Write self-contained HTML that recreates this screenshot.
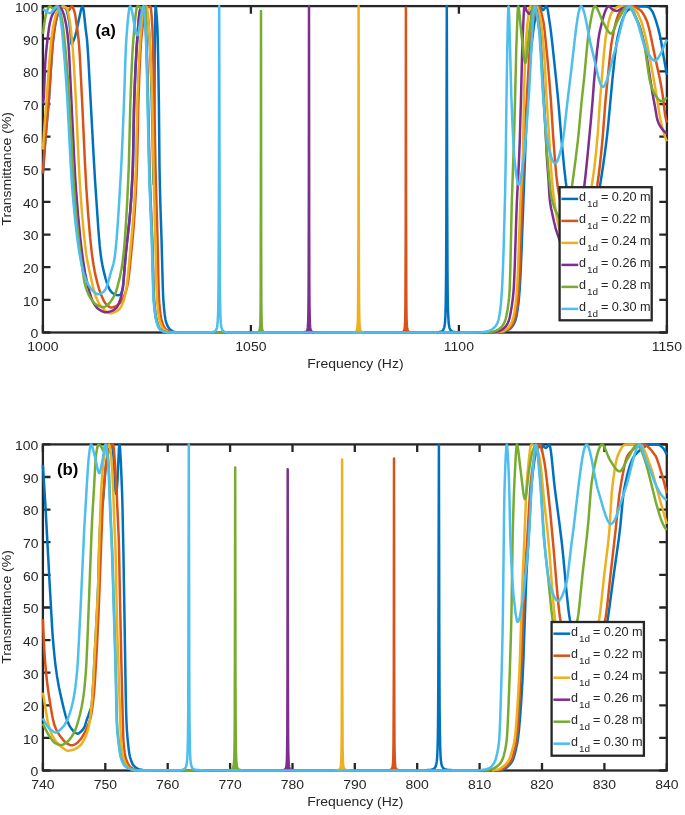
<!DOCTYPE html>
<html><head><meta charset="utf-8"><title>Transmittance</title>
<style>html,body{margin:0;padding:0;background:#fff;}svg{display:block;font-family:"Liberation Sans",Arial,Helvetica,sans-serif;}</style>
</head><body>
<svg width="685" height="815" viewBox="0 0 685 815">
<rect width="685" height="815" fill="#fff"/>
<path d="M42.9 332.5V324.9M42.9 6.1V13.7M250.9 332.5V324.9M250.9 6.1V13.7M458.9 332.5V324.9M458.9 6.1V13.7M666.9 332.5V324.9M666.9 6.1V13.7M42.9 332.5H50.5M666.9 332.5H659.3M42.9 299.9H50.5M666.9 299.9H659.3M42.9 267.2H50.5M666.9 267.2H659.3M42.9 234.6H50.5M666.9 234.6H659.3M42.9 201.9H50.5M666.9 201.9H659.3M42.9 169.3H50.5M666.9 169.3H659.3M42.9 136.7H50.5M666.9 136.7H659.3M42.9 104.0H50.5M666.9 104.0H659.3M42.9 71.4H50.5M666.9 71.4H659.3M42.9 38.7H50.5M666.9 38.7H659.3M42.9 6.1H50.5M666.9 6.1H659.3" stroke="#262626" stroke-width="2.3" fill="none"/>
<rect x="42.9" y="6.1" width="624.0" height="326.4" fill="none" stroke="#262626" stroke-width="2.3"/>
<text x="42.9" y="351.1" font-size="13.7" text-anchor="middle" textLength="31.1" lengthAdjust="spacingAndGlyphs" fill="#262626">1000</text>
<text x="250.9" y="351.1" font-size="13.7" text-anchor="middle" textLength="31.1" lengthAdjust="spacingAndGlyphs" fill="#262626">1050</text>
<text x="458.9" y="351.1" font-size="13.7" text-anchor="middle" textLength="30.1" lengthAdjust="spacingAndGlyphs" fill="#262626">1100</text>
<text x="666.9" y="351.1" font-size="13.7" text-anchor="middle" textLength="30.1" lengthAdjust="spacingAndGlyphs" fill="#262626">1150</text>
<text x="38.4" y="338.3" font-size="13.7" text-anchor="end" textLength="7.8" lengthAdjust="spacingAndGlyphs" fill="#262626">0</text>
<text x="38.4" y="305.7" font-size="13.7" text-anchor="end" textLength="15.5" lengthAdjust="spacingAndGlyphs" fill="#262626">10</text>
<text x="38.4" y="273.0" font-size="13.7" text-anchor="end" textLength="15.5" lengthAdjust="spacingAndGlyphs" fill="#262626">20</text>
<text x="38.4" y="240.4" font-size="13.7" text-anchor="end" textLength="15.5" lengthAdjust="spacingAndGlyphs" fill="#262626">30</text>
<text x="38.4" y="207.7" font-size="13.7" text-anchor="end" textLength="15.5" lengthAdjust="spacingAndGlyphs" fill="#262626">40</text>
<text x="38.4" y="175.1" font-size="13.7" text-anchor="end" textLength="15.5" lengthAdjust="spacingAndGlyphs" fill="#262626">50</text>
<text x="38.4" y="142.5" font-size="13.7" text-anchor="end" textLength="15.5" lengthAdjust="spacingAndGlyphs" fill="#262626">60</text>
<text x="38.4" y="109.8" font-size="13.7" text-anchor="end" textLength="15.5" lengthAdjust="spacingAndGlyphs" fill="#262626">70</text>
<text x="38.4" y="77.2" font-size="13.7" text-anchor="end" textLength="15.5" lengthAdjust="spacingAndGlyphs" fill="#262626">80</text>
<text x="38.4" y="44.5" font-size="13.7" text-anchor="end" textLength="15.5" lengthAdjust="spacingAndGlyphs" fill="#262626">90</text>
<text x="38.4" y="11.9" font-size="13.7" text-anchor="end" textLength="23.3" lengthAdjust="spacingAndGlyphs" fill="#262626">100</text>
<text x="355.4" y="368.1" font-size="13.7" text-anchor="middle" textLength="96.3" lengthAdjust="spacingAndGlyphs" fill="#262626">Frequency (Hz)</text>
<text x="0" y="0" font-size="13.7" text-anchor="middle" textLength="113.6" lengthAdjust="spacingAndGlyphs" fill="#262626" transform="translate(10.9 168.8) rotate(-90)">Transmittance (%)</text>
<path d="M42.9 173.8L44.3 153.9L45.7 135.7L49.1 97.3L51.5 59.6L52.5 46.1L53.3 38.5L54.3 30.6L55.3 24.2L56.1 20.3L57.3 15.7L58.3 12.5L59.3 10.4L60.5 8.8L61.7 7.6L62.3 7.2L62.9 7.0L63.7 7.1L64.5 7.4L65.5 8.0L65.9 8.4L66.5 9.7L67.3 12.4L68.9 19.9L69.5 24.1L70.5 32.6L71.3 42.3L71.5 43.9L71.7 44.3L72.1 43.8L74.1 39.2L75.1 36.4L76.3 31.5L81.1 9.6L81.9 7.1L82.3 6.5L82.5 6.4L82.7 6.5L82.9 6.9L83.3 8.5L83.9 12.5L85.7 29.3L86.9 38.6L87.5 45.3L88.5 61.4L93.7 157.4L95.1 181.5L98.5 231.4L99.7 245.7L100.7 254.6L101.5 260.0L102.3 264.5L103.3 269.4L104.5 274.4L105.7 279.0L106.9 283.0L107.9 285.7L109.3 288.8L110.3 290.5L111.3 291.8L112.9 293.3L114.5 294.3L116.5 295.0L118.1 295.2L118.9 295.1L119.7 294.9L120.5 294.5L120.9 294.1L121.5 292.8L122.1 290.6L122.9 286.9L123.3 284.0L125.7 254.7L126.7 244.9L129.3 221.4L130.3 210.4L131.1 199.6L132.1 182.9L132.9 165.5L134.1 105.0L134.7 87.0L135.5 68.1L136.5 49.7L137.9 30.4L138.9 19.1L139.5 14.4L139.9 12.4L141.1 9.8L141.9 8.5L142.5 7.8L143.3 7.2L143.9 7.0L144.3 7.0L144.9 7.6L145.5 8.6L146.1 10.0L146.7 11.8L147.5 14.8L147.9 17.0L148.5 23.0L149.1 31.7L149.9 46.4L150.7 63.5L151.1 74.6L152.5 127.9L153.3 175.0L153.5 183.0L153.7 184.2L153.9 168.0L154.7 54.7L155.3 12.2L155.5 6.7L155.7 6.6L156.1 8.8L156.7 15.8L157.3 25.9L157.7 36.5L158.3 65.0L158.9 103.8L159.5 166.8L159.7 178.0L160.3 202.6L161.5 238.3L162.7 283.7L163.1 295.3L163.3 299.3L164.1 309.0L164.7 314.5L165.5 319.7L166.1 322.2L167.1 324.9L168.1 327.0L169.3 328.8L170.1 329.5L171.7 330.7L172.9 331.3L174.1 331.8L175.1 332.0L177.7 332.3M181.7 332.6M421.7 332.5M430.9 332.5M436.1 332.3L439.3 332.0L441.3 331.4L442.0 331.1L442.6 330.6L443.1 330.1L443.5 329.4L444.2 327.6L444.7 325.0L445.1 321.3L445.4 316.1L445.8 300.0L446.1 271.8L446.3 227.8L446.8 6.1L447.2 204.2L447.5 273.2L447.7 296.1L448.0 310.7L448.5 320.0L448.7 323.3L449.1 325.8L449.4 327.5L449.8 328.8L450.3 329.8L450.9 330.5L451.7 331.1L452.7 331.6L453.9 331.9L455.5 332.1L459.1 332.4M465.1 332.5M494.3 332.6M498.1 332.4L502.5 331.8L504.5 331.5L505.9 331.1L507.5 330.3L509.3 329.2L510.7 328.2L511.7 327.1L512.7 325.8L513.7 324.2L515.1 321.3L515.5 320.1L516.1 317.9L516.7 315.0L517.5 310.4L518.5 303.1L519.7 289.3L520.5 275.3L521.7 246.8L525.7 138.8L527.3 106.1L529.7 67.3L530.5 56.4L531.3 47.4L532.7 35.0L534.1 24.7L535.1 19.0L535.9 15.5L537.7 9.8L538.3 8.3L538.9 7.2L539.3 6.6L539.7 6.3L540.1 6.3L540.3 6.5L540.9 7.3L542.1 9.5L542.5 10.0L542.9 10.2L543.3 10.0L543.7 9.6L545.7 6.7L546.1 6.4L546.5 6.3L546.7 6.4L547.1 7.3L547.9 10.7L550.5 28.1L552.3 43.4L555.9 77.3L557.7 95.2L558.7 106.1L561.3 137.3L564.1 167.0L565.7 181.4L567.5 193.9L569.3 205.1L571.1 215.0L572.7 222.4L574.1 227.4L574.9 229.6L576.7 233.8L578.1 236.8L579.5 239.5L580.7 241.5L581.7 242.8L582.7 243.9L583.7 244.6L584.5 244.9L585.1 245.0L585.5 244.9L586.1 244.5L586.7 243.7L587.3 242.7L588.7 239.4L590.7 232.9L594.1 219.8L595.1 215.4L596.1 210.2L597.7 200.6L602.7 168.5L604.7 154.5L606.3 142.1L607.3 133.4L608.5 121.6L612.3 80.5L614.9 56.1L616.5 43.5L617.7 36.5L619.9 28.0L621.1 23.9L622.3 20.3L623.5 17.1L624.7 14.4L625.5 12.9L626.3 11.7L627.1 10.7L627.9 10.1L630.5 8.7L632.9 7.7L635.3 6.9L637.7 6.5L639.7 6.3L642.7 6.4L645.7 6.6L648.3 7.1L649.1 7.5L649.9 8.2L651.9 10.8L652.7 12.1L653.5 13.9L655.9 20.7L657.7 26.6L659.5 33.6L660.9 40.3L663.5 55.9L666.9 75.0" stroke="#0072BD" stroke-width="2.5" fill="none" stroke-linejoin="round"/>
<path d="M42.9 172.8L44.3 153.3L45.9 132.8L49.1 96.8L51.5 59.1L52.3 48.0L52.9 41.5L53.7 34.7L54.5 28.8L55.3 23.8L56.7 17.2L57.5 14.0L58.1 12.0L58.9 10.2L60.7 8.1L61.5 7.4L62.3 6.9L63.1 6.6L63.9 6.6L64.9 7.2L67.5 9.8L68.1 10.2L68.7 10.3L69.1 10.1L69.5 9.6L70.9 7.2L71.5 6.5L71.9 6.4L72.1 6.5L72.7 7.1L73.5 8.9L74.5 11.8L74.9 13.4L75.3 15.4L77.7 32.3L78.5 39.2L79.1 45.6L79.7 54.3L80.5 69.1L82.3 105.1L84.9 161.9L86.3 187.7L88.3 215.8L90.1 237.2L91.7 252.2L92.5 258.3L93.5 264.8L94.7 271.4L95.9 276.9L97.5 283.5L98.9 288.4L100.3 292.6L102.3 297.6L103.7 300.7L105.1 303.0L107.3 305.3L108.9 306.7L110.3 307.4L110.9 307.6L111.7 307.6L112.9 307.3L114.3 306.8L115.9 306.1L117.3 305.3L118.5 304.4L119.7 303.4L120.5 302.4L121.3 301.3L122.3 299.7L123.3 297.7L125.3 293.1L126.7 288.6L127.9 283.1L128.9 275.8L129.9 266.6L132.3 242.1L133.7 225.8L134.5 214.7L135.3 201.8L136.7 173.5L137.3 153.7L138.3 105.2L138.9 86.9L139.7 66.6L140.3 54.1L140.9 44.1L141.7 34.5L143.9 15.8L144.5 11.7L145.1 8.8L145.3 8.3L145.5 8.0L145.7 7.9L147.7 7.5L149.5 6.6L150.3 6.4L150.5 6.6L150.9 8.4L151.3 12.0L151.7 16.9L152.5 29.7L152.9 41.0L154.3 102.3L155.5 167.8L156.1 191.3L157.5 238.1L158.5 283.5L158.9 297.2L159.3 303.2L159.9 309.6L160.5 314.5L161.1 318.2L161.9 321.5L162.9 324.4L163.9 326.6L165.1 328.5L165.9 329.4L167.3 330.4L168.7 331.2L169.9 331.7L170.9 332.0L173.3 332.3M177.5 332.6M389.3 332.6M399.3 332.4L401.4 332.2L402.7 331.9L403.5 331.3L404.1 330.4L404.5 329.0L404.8 326.9L405.2 319.4L405.4 304.8L405.7 235.7L405.9 7.8L406.1 215.7L406.3 288.8L406.4 308.5L406.6 319.8L407.0 326.2L407.2 328.3L407.5 329.7L407.8 330.5L408.1 331.1L408.5 331.6L409.1 331.9L410.7 332.3L413.7 332.5M427.3 332.6M493.1 332.6M496.7 332.4L499.5 332.1L502.7 331.7L503.9 331.4L505.1 331.0L506.9 330.1L508.9 328.8L510.1 327.8L511.1 326.6L512.1 325.2L513.1 323.4L514.1 321.3L514.7 319.5L515.3 317.2L516.1 313.3L517.3 305.7L517.9 300.3L518.5 293.4L519.3 280.2L520.1 260.1L521.9 206.7L524.3 145.4L525.3 125.3L529.3 54.6L529.9 46.6L530.9 36.4L531.9 27.5L532.9 20.4L533.7 16.3L534.5 13.6L536.1 9.2L536.7 8.0L537.3 7.1L537.7 6.6L538.1 6.4L538.5 6.3L538.9 6.5L539.3 7.0L539.7 7.7L540.7 10.4L541.9 15.0L543.3 21.2L543.9 25.0L544.7 31.5L547.5 59.6L549.1 77.7L550.9 100.7L553.1 135.1L554.7 156.6L556.1 173.0L556.7 178.7L557.5 185.0L558.5 191.5L559.5 197.2L563.5 217.8L565.3 226.3L566.7 232.0L567.9 235.9L569.1 238.7L569.7 239.6L570.1 240.0L572.1 241.7L573.9 242.9L575.7 243.9L577.3 244.6L578.9 244.9L580.3 245.0L581.1 244.6L581.9 243.7L582.9 242.0L583.9 239.8L584.9 237.1L586.1 233.5L590.9 217.0L593.1 208.0L595.3 197.0L597.3 185.2L598.5 176.8L599.9 165.1L601.3 151.8L602.7 137.2L605.1 105.4L605.9 96.2L609.9 56.6L611.3 44.7L611.9 40.8L613.3 33.6L614.7 27.1L615.9 22.2L616.9 18.7L617.9 15.8L618.9 13.6L619.7 12.4L621.5 10.8L623.5 9.3L625.5 8.1L627.3 7.3L629.1 6.7L630.9 6.4L632.5 6.3L634.1 6.6L635.7 7.2L637.5 8.2L640.1 10.0L641.3 11.1L642.5 12.7L643.7 14.5L645.1 17.1L646.5 20.1L647.3 22.2L648.1 24.8L649.9 32.0L654.7 55.2L659.7 78.3L661.1 85.6L662.5 93.9L665.1 115.1L666.1 119.8L666.9 122.3" stroke="#D95319" stroke-width="2.5" fill="none" stroke-linejoin="round"/>
<path d="M401.6 332.2L402.8 331.8L403.3 331.5L403.6 331.2L404.2 330.2L404.6 328.6L404.8 326.1L405.1 322.6L405.3 310.1L405.5 284.6L405.7 241.4L405.9 7.8L406.1 241.4L406.3 284.6L406.5 310.1L406.7 322.6L406.9 326.1L407.2 328.6L407.6 330.2L408.2 331.2L408.5 331.5L409.0 331.8L410.2 332.2L410.2 333.7L401.6 333.7Z" fill="#D95319"/>
<path d="M42.9 149.6L44.5 125.7L46.7 99.3L48.7 69.7L49.9 54.3L51.1 41.6L52.1 33.6L53.1 26.9L53.9 22.7L55.5 16.0L56.5 12.7L57.1 11.4L57.5 10.7L58.9 9.1L60.1 7.9L61.3 7.0L62.5 6.5L63.7 6.4L64.7 6.7L66.1 7.6L66.7 8.2L66.9 8.5L67.5 10.1L68.3 13.4L69.5 19.7L70.1 23.4L71.3 33.2L72.7 47.9L73.9 65.2L75.7 96.4L78.9 166.1L80.1 187.8L81.9 212.0L83.7 232.5L85.5 248.8L86.3 254.7L87.1 259.6L88.9 268.6L92.9 286.5L94.5 292.8L95.5 295.8L97.1 299.5L98.7 302.8L100.1 305.1L101.1 306.4L101.9 307.3L104.1 309.5L105.7 310.9L106.9 311.8L107.9 312.4L108.9 312.9L109.9 313.2L110.9 313.2L112.1 313.0L116.3 311.3L117.5 310.6L118.5 309.9L119.3 309.3L120.1 308.3L121.1 306.7L122.1 304.6L123.3 301.7L124.1 299.3L124.7 297.1L125.5 293.4L126.7 286.5L127.9 276.0L132.3 228.9L133.3 216.5L134.3 201.4L135.1 186.6L135.9 168.7L137.3 101.6L138.5 70.8L139.7 48.8L141.3 25.9L141.9 19.4L142.3 16.3L142.5 15.2L143.3 12.3L144.5 8.8L145.1 7.6L145.5 7.0L146.1 6.5L146.5 6.4L146.7 6.7L146.9 7.5L147.5 11.6L148.1 17.8L149.1 30.1L150.1 48.4L151.7 86.1L152.3 105.8L153.9 184.9L156.3 279.1L156.9 297.5L157.3 303.1L157.9 309.4L158.5 314.3L159.1 318.1L159.7 320.8L160.5 323.3L161.5 325.8L162.5 327.7L163.3 328.8L164.3 329.7L165.9 330.8L167.5 331.6L168.7 331.9L170.5 332.2L172.9 332.5L175.3 332.6M343.1 332.6M352.3 332.4L354.2 332.2L355.4 331.9L356.2 331.3L356.8 330.4L357.2 328.9L357.5 326.8L357.9 319.4L358.1 304.6L358.4 235.2L358.6 6.1L358.8 222.3L359.0 292.3L359.2 310.7L359.4 321.5L359.8 327.3L360.0 329.1L360.4 330.4L360.7 331.0L361.2 331.5L361.7 331.8L362.3 332.1L364.3 332.4M368.1 332.5M387.3 332.6M491.7 332.6L494.5 332.5L497.3 332.2L501.3 331.6L502.5 331.3L504.3 330.5L506.3 329.2L507.9 328.0L509.1 326.7L510.3 325.0L511.3 323.2L512.3 321.0L512.9 319.2L513.5 316.7L514.3 312.7L515.1 307.9L515.7 303.4L516.3 297.8L516.9 290.7L517.5 280.4L518.1 265.9L520.3 203.4L520.9 191.4L522.1 172.7L522.7 160.1L523.1 148.1L523.9 98.0L524.7 69.7L525.5 49.2L525.9 42.1L526.5 34.4L527.3 25.2L528.1 17.4L528.7 12.7L529.3 9.2L529.9 7.0L530.3 6.4L530.5 6.3L530.9 6.4L532.3 7.3L532.9 7.5L533.7 7.4L535.5 6.7L536.3 6.5L536.7 6.5L537.1 6.9L537.5 7.5L538.1 9.0L539.5 13.8L540.1 16.4L540.9 21.2L541.7 27.1L542.5 34.1L543.9 50.7L544.9 65.9L546.1 90.4L546.7 100.8L549.5 142.3L551.1 168.9L551.9 179.5L553.3 192.7L554.5 202.5L555.7 211.0L556.9 218.1L558.3 224.8L561.1 235.3L563.1 241.8L564.1 244.6L564.9 246.4L565.9 248.3L566.7 249.3L567.3 249.8L567.7 250.0L568.7 250.0L570.5 249.7L572.5 248.9L574.7 247.7L576.9 246.0L578.3 244.7L579.1 243.4L579.7 241.9L580.5 239.5L581.9 234.1L588.9 201.7L591.1 189.7L592.9 178.3L594.5 166.3L596.1 151.9L597.7 134.5L599.9 102.0L601.3 84.1L604.1 51.6L605.5 38.7L606.1 34.7L607.7 26.2L608.9 20.8L609.9 17.1L610.7 14.7L611.5 12.9L612.3 11.7L614.1 9.6L615.5 8.2L616.7 7.3L617.9 6.7L618.9 6.4L621.1 6.3L627.5 6.4L630.1 6.5L631.1 6.7L632.3 7.4L633.5 8.4L635.1 10.0L636.7 11.8L637.5 13.0L638.5 14.9L640.7 19.9L642.1 23.9L643.7 29.6L645.9 38.5L647.3 45.1L651.5 67.1L654.7 84.7L656.7 96.3L659.3 113.3L660.5 119.8L662.5 128.2L664.1 134.0L665.5 138.2L666.3 140.1L666.9 141.3" stroke="#EDB120" stroke-width="2.5" fill="none" stroke-linejoin="round"/>
<path d="M354.3 332.2L355.5 331.8L356.0 331.5L356.3 331.2L356.9 330.2L357.3 328.6L357.6 326.1L357.8 322.5L358.1 310.0L358.2 284.3L358.4 240.9L358.6 6.1L358.8 240.9L359.0 284.3L359.2 310.0L359.4 322.5L359.7 326.1L359.9 328.6L360.3 330.2L360.9 331.2L361.2 331.5L361.7 331.8L362.9 332.2L362.9 333.7L354.3 333.7Z" fill="#EDB120"/>
<path d="M42.9 103.8L43.1 103.0L43.5 100.4L43.9 95.4L45.1 66.3L45.5 59.3L45.9 54.4L46.7 46.4L48.3 33.1L49.1 27.2L49.9 22.7L51.1 18.1L51.7 16.3L52.5 14.4L54.1 11.4L55.3 9.4L56.3 8.0L57.3 7.0L58.1 6.6L58.7 6.5L59.3 6.7L59.9 7.2L60.9 8.3L62.1 10.1L63.1 12.3L63.9 14.8L64.7 17.9L65.7 22.6L66.5 26.8L67.5 34.2L68.5 44.4L69.3 57.1L74.3 160.8L75.3 178.7L76.1 190.7L78.1 215.5L80.3 238.0L81.5 248.4L82.7 257.6L83.9 265.7L85.1 272.9L86.3 278.9L87.9 285.7L89.5 291.9L91.1 297.2L92.3 300.4L93.3 302.6L94.9 305.1L96.7 307.5L97.7 308.5L98.5 309.1L101.5 311.0L103.7 311.9L104.7 312.2L105.7 312.3L106.9 312.2L108.1 312.0L110.5 311.4L111.9 310.9L113.1 310.3L114.3 309.6L116.3 308.1L117.1 307.0L118.1 305.1L119.1 302.7L120.3 299.2L121.1 296.4L121.7 293.9L122.9 287.2L123.7 279.6L125.1 261.8L125.9 252.9L128.7 227.5L129.7 217.6L130.5 208.2L131.3 196.9L132.7 171.1L133.1 157.7L133.9 114.4L134.3 98.5L135.5 68.6L136.7 47.2L138.5 21.6L139.1 15.0L139.5 11.8L139.9 9.9L140.3 9.1L141.1 8.0L141.9 7.2L142.5 6.8L143.3 6.5L143.5 6.5L143.7 6.6L143.9 7.1L144.3 9.3L145.1 17.7L145.9 30.0L146.7 45.4L147.5 75.5L149.5 168.2L150.3 192.2L152.3 241.5L153.7 292.8L153.9 297.6L154.3 303.0L155.3 312.7L156.3 318.9L156.9 321.5L157.7 324.0L158.5 326.2L159.3 327.8L159.9 328.8L160.7 329.6L162.3 330.8L163.7 331.5L164.7 331.8L165.7 332.0L168.5 332.4L170.9 332.6M272.3 332.6M299.3 332.5M303.1 332.4L305.2 332.1L305.9 331.8L306.4 331.5L306.8 331.0L307.2 330.4L307.5 329.2L307.8 327.4L308.2 321.5L308.4 310.7L308.6 292.3L308.8 222.3L309.0 6.1L309.2 235.2L309.3 279.4L309.5 306.6L309.8 320.4L309.9 324.5L310.2 327.4L310.5 329.4L310.9 330.6L311.6 331.5L312.4 332.0L313.8 332.3L315.9 332.4M325.5 332.6M488.7 332.6M491.7 332.4L495.1 332.0L497.9 331.5L499.5 331.0L501.7 329.9L503.9 328.3L505.3 326.9L506.5 325.3L507.9 322.8L508.9 320.5L509.7 317.5L510.5 313.6L511.9 305.4L512.7 299.6L513.5 291.8L513.9 286.3L514.7 267.7L516.3 217.4L516.9 201.2L518.9 162.6L519.7 143.1L520.9 101.8L522.1 53.8L522.5 41.2L523.7 14.5L524.1 8.8L524.3 7.1L524.5 6.3L524.7 6.3L524.9 6.5L525.3 7.2L526.5 10.4L526.9 11.3L528.5 13.3L529.1 13.7L529.7 13.9L530.1 13.6L530.5 13.1L531.7 10.6L533.7 7.0L534.3 6.4L534.7 6.3L534.9 6.5L535.5 7.4L536.3 10.0L536.9 12.7L537.7 17.2L539.7 31.2L540.1 35.3L540.7 43.4L545.3 125.4L546.9 157.5L547.3 163.7L548.5 179.3L549.3 193.6L549.7 198.9L550.3 203.6L551.1 208.2L553.9 221.3L555.5 227.8L556.9 232.4L559.5 239.8L562.7 249.7L564.1 253.0L564.7 254.0L565.3 254.7L565.9 255.0L566.9 254.9L567.9 254.3L569.1 253.2L570.1 252.0L571.3 250.2L572.5 248.1L573.9 245.3L574.7 243.3L575.7 239.6L576.7 234.7L577.7 229.1L580.9 209.9L582.3 200.7L584.1 187.5L585.5 175.6L587.5 156.1L590.9 120.3L592.7 99.4L593.9 82.9L595.1 69.8L596.9 52.0L598.3 40.3L599.1 34.9L599.9 30.7L602.9 18.5L604.1 14.4L605.3 11.0L606.3 8.8L607.3 7.2L607.9 6.6L608.3 6.4L608.7 6.3L609.1 6.4L609.9 6.9L611.7 8.8L612.5 9.5L615.1 10.6L616.1 10.9L616.9 10.9L618.1 10.6L620.7 9.2L625.7 6.9L627.5 6.4L628.3 6.3L628.9 6.4L629.5 6.6L630.1 7.0L631.3 8.4L632.7 10.7L634.1 13.4L637.9 21.9L639.7 26.8L640.9 30.7L642.1 35.0L644.7 45.7L645.7 50.7L646.7 56.5L652.5 93.3L655.1 107.3L656.7 116.8L657.3 119.5L658.1 121.9L658.9 123.8L659.9 125.7L660.9 127.3L662.7 129.7L664.3 131.5L665.7 132.7L666.9 133.3" stroke="#7E2F8E" stroke-width="2.5" fill="none" stroke-linejoin="round"/>
<path d="M304.7 332.2L305.9 331.8L306.4 331.5L306.7 331.2L307.3 330.2L307.7 328.6L307.9 326.1L308.2 322.5L308.4 310.0L308.6 284.3L308.8 240.9L309.0 6.1L309.2 240.9L309.4 284.3L309.6 310.0L309.8 322.5L310.1 326.1L310.3 328.6L310.7 330.2L311.3 331.2L311.6 331.5L312.1 331.8L313.3 332.2L313.3 333.7L304.7 333.7Z" fill="#7E2F8E"/>
<path d="M42.9 33.8L44.3 23.5L45.5 16.4L46.1 13.5L46.5 12.1L47.7 9.1L48.5 7.6L49.1 6.8L49.7 6.4L50.3 6.5L50.9 6.9L52.3 8.2L52.7 8.4L53.1 8.5L53.7 8.3L55.1 7.2L55.7 6.9L56.1 6.8L56.5 6.9L57.3 7.3L58.7 8.6L59.1 9.1L59.5 9.8L60.3 12.1L61.1 15.4L62.5 22.6L63.7 32.0L65.7 51.8L67.3 71.2L68.7 90.7L69.5 103.9L73.3 177.2L74.1 189.3L75.5 206.7L77.1 224.3L78.9 241.4L81.1 259.3L83.1 273.9L83.9 278.9L84.7 283.1L85.3 285.5L86.1 288.2L87.1 291.0L88.3 293.9L89.5 296.3L91.1 298.9L92.5 301.0L93.7 302.5L94.9 303.7L95.9 304.4L98.7 305.8L100.9 306.7L102.9 307.1L103.9 307.1L104.5 307.0L105.5 306.5L106.9 305.5L108.5 304.2L109.7 302.9L111.3 300.6L113.3 297.5L114.3 295.7L115.3 293.5L116.3 290.7L117.5 286.6L119.9 277.0L121.5 269.0L122.7 261.1L123.9 250.5L125.1 236.1L126.3 217.9L127.3 199.5L128.3 178.2L128.9 162.7L130.3 104.7L131.3 77.4L132.1 59.3L132.7 48.4L134.3 28.1L135.1 19.5L135.9 12.5L136.5 8.8L137.1 6.7L137.3 6.5L137.5 6.4L138.3 6.5L139.3 6.9L140.7 7.8L141.3 8.4L142.5 10.6L142.9 11.0L143.1 11.0L143.5 10.4L144.7 6.9L144.9 6.6L145.1 6.6L145.3 8.7L145.7 19.1L146.9 61.3L147.9 102.1L148.9 151.3L149.5 175.0L150.1 192.2L151.9 235.7L153.3 286.7L153.7 297.6L153.9 300.6L154.9 311.0L155.9 317.9L156.9 322.2L157.7 324.6L158.5 326.6L159.3 328.2L159.9 329.0L160.9 329.9L162.3 330.9L163.5 331.5L164.7 331.9L168.3 332.4M172.3 332.6L210.2 332.6L228.2 332.6L240.3 332.6M253.7 332.5L256.6 332.4L258.1 332.0L258.6 331.8L259.1 331.4L259.4 330.9L259.6 330.2L259.9 328.9L260.1 327.0L260.4 321.0L260.6 309.4L260.7 290.7L260.8 216.8L261.0 10.9L261.2 240.9L261.3 285.6L261.4 310.3L261.7 322.6L261.8 326.2L262.1 328.7L262.4 330.3L262.9 331.3L263.5 331.9L264.5 332.2L265.9 332.4L268.3 332.5M278.9 332.6M484.9 332.6L487.5 332.4L490.1 332.1L493.5 331.5L495.7 330.9L497.3 330.2L499.1 329.0L500.9 327.6L502.1 326.3L503.5 324.2L504.9 321.3L505.7 318.8L506.5 315.3L507.5 309.8L508.5 302.9L509.1 297.2L509.7 289.2L510.3 270.6L511.7 205.3L513.9 141.9L515.1 98.1L516.3 47.8L517.5 15.3L517.9 8.5L518.1 6.7L518.3 6.3L518.5 6.7L518.7 7.5L519.3 11.8L520.7 26.8L523.7 55.2L524.5 60.5L524.9 62.1L525.1 62.6L525.3 62.8L525.5 62.7L525.9 61.7L526.3 59.7L526.7 56.9L529.1 33.6L531.5 13.4L532.1 9.2L532.5 7.3L532.9 6.4L533.1 6.3L533.3 6.3L533.9 6.8L534.5 7.8L535.1 9.3L535.7 11.2L537.1 17.1L538.1 22.4L539.3 29.7L539.7 32.8L540.1 37.3L541.1 52.9L543.3 94.2L545.1 124.5L546.3 142.9L547.3 156.8L548.5 171.3L549.3 179.6L550.7 192.3L551.3 196.6L551.7 198.6L552.9 203.2L554.3 207.4L555.7 210.7L558.9 217.1L561.5 223.0L562.5 224.8L563.1 225.5L563.5 225.8L564.1 226.0L564.3 225.9L564.7 225.5L565.3 224.2L565.9 222.3L566.9 218.0L568.7 209.3L569.9 201.8L575.5 160.2L577.9 140.4L578.9 130.7L581.5 102.5L584.3 76.6L587.1 46.3L588.3 35.2L588.9 30.9L589.9 25.0L591.9 14.2L593.1 9.3L593.7 7.7L594.3 6.6L594.7 6.3L594.9 6.3L595.5 6.5L596.1 7.0L596.9 8.1L597.7 9.6L598.5 11.4L602.1 20.2L606.9 29.3L608.1 31.3L609.1 32.5L610.1 33.4L610.9 33.6L611.3 33.5L611.9 33.1L612.5 32.4L613.1 31.4L614.1 29.2L616.5 23.2L617.5 21.0L622.7 11.4L623.7 9.7L624.7 8.3L625.5 7.4L626.1 6.8L626.9 6.4L627.5 6.3L628.1 6.4L628.9 6.7L629.7 7.4L630.5 8.2L631.9 10.2L633.3 12.7L637.5 21.4L638.5 23.9L639.5 26.8L641.5 33.5L643.5 41.4L644.9 48.0L645.9 54.4L648.3 71.7L649.5 78.9L650.1 81.5L651.3 85.8L652.3 88.9L653.3 91.6L654.7 94.4L656.9 97.6L658.7 99.7L659.5 100.4L660.3 100.8L660.9 101.0L661.9 101.0L662.9 100.7L663.7 100.4L664.5 99.9L665.3 99.2L666.1 98.4L666.9 97.3" stroke="#77AC30" stroke-width="2.5" fill="none" stroke-linejoin="round"/>
<path d="M257.6 332.2L258.6 331.8L259.2 331.2L259.6 330.2L259.9 328.6L260.2 326.2L260.3 322.6L260.6 310.3L260.7 285.6L260.8 240.9L261.0 10.9L261.2 240.9L261.3 285.6L261.4 310.3L261.7 322.6L261.8 326.2L262.1 328.6L262.4 330.2L262.8 331.2L263.4 331.8L264.4 332.2L264.4 333.7L257.6 333.7Z" fill="#77AC30"/>
<path d="M42.9 8.9L46.5 11.6L47.7 12.4L48.9 13.0L49.5 13.1L50.1 13.1L50.9 12.8L51.9 11.9L54.9 8.2L55.9 7.1L56.7 6.5L57.5 6.3L57.7 6.3L57.9 6.5L58.3 7.3L58.7 8.5L59.3 11.1L60.5 18.2L61.9 28.3L64.3 56.5L65.9 77.7L67.3 98.8L70.7 164.4L71.9 184.1L73.1 198.7L74.7 215.7L76.3 230.4L77.9 243.0L79.7 254.7L80.9 261.3L81.9 266.1L82.9 270.4L83.7 273.3L84.7 276.4L85.9 279.6L87.1 282.3L88.5 284.9L90.3 287.8L91.9 289.9L93.3 291.3L95.9 293.3L97.5 294.1L98.7 294.3L99.5 294.2L100.5 293.8L101.9 292.9L103.3 291.9L104.3 290.9L105.1 289.9L105.9 288.6L106.5 287.3L108.5 281.2L111.1 271.5L112.7 266.4L113.5 263.5L114.5 258.6L115.5 250.8L116.7 237.9L117.9 221.7L119.3 199.9L121.1 169.1L122.1 148.6L123.3 119.2L124.3 93.2L125.3 61.9L125.9 46.4L126.5 37.1L127.5 24.1L128.3 15.6L128.9 10.8L129.5 7.6L129.9 6.5L130.1 6.3L130.3 6.3L130.5 6.5L131.1 7.7L131.7 9.8L132.3 12.7L134.7 26.8L135.5 30.9L136.1 33.3L136.5 34.4L136.9 35.1L137.3 35.3L137.7 34.9L138.1 33.8L138.9 30.2L141.3 14.3L142.3 8.9L142.7 7.5L143.1 6.6L143.3 6.3L143.5 6.3L143.7 6.8L143.9 7.8L144.3 11.3L144.9 19.7L145.7 34.7L146.3 48.5L146.9 71.3L149.1 171.7L149.9 194.7L151.7 238.5L153.1 289.9L153.3 295.4L153.7 301.8L154.7 311.9L155.7 318.4L156.3 321.1L156.9 323.1L157.9 325.9L158.7 327.7L159.5 328.9L160.1 329.5L161.7 330.7L163.1 331.4L164.1 331.8L165.1 332.0L167.9 332.4L170.3 332.5L202.3 332.5L208.5 332.4L212.1 332.1L213.3 331.9L214.3 331.5L215.1 331.1L215.7 330.5L216.2 329.8L216.6 328.8L217.0 327.6L217.3 326.0L217.5 323.5L217.8 320.2L218.2 310.5L218.4 295.3L218.6 272.6L218.9 205.2L219.2 6.1L219.7 244.3L219.9 287.6L220.3 311.7L220.5 318.5L220.8 323.4L221.3 326.7L221.9 329.0L222.2 329.8L222.7 330.5L223.2 331.0L223.8 331.4L224.5 331.7L225.5 331.9L228.1 332.3L235.3 332.5L253.1 332.6L476.1 332.6L481.7 332.2L486.5 331.5L489.5 330.7L490.7 330.2L491.9 329.5L493.1 328.6L494.3 327.5L495.1 326.7L495.9 325.7L496.7 324.3L497.5 322.7L498.3 320.6L498.7 319.1L499.3 316.1L499.9 312.3L500.9 304.1L501.7 293.9L502.3 283.6L502.9 269.8L503.7 246.4L505.1 193.4L505.7 159.9L506.5 96.9L507.3 47.8L507.9 19.1L508.3 8.4L508.5 6.4L508.7 6.8L508.9 9.2L509.3 18.4L511.3 96.0L512.5 125.0L513.5 145.5L514.3 157.4L515.1 165.0L516.1 173.3L516.9 178.8L517.5 181.9L518.1 183.9L518.5 184.6L518.7 184.7L518.9 184.7L519.3 184.2L519.9 182.6L520.5 180.2L521.3 175.8L523.9 157.3L525.1 145.4L526.5 127.9L529.1 91.8L531.9 38.1L532.9 21.2L533.5 13.5L533.9 9.8L534.3 7.3L534.5 6.6L534.7 6.3L534.9 6.3L535.1 6.5L535.7 7.9L536.1 9.4L536.7 12.5L537.9 20.7L539.3 32.4L540.3 46.6L542.1 80.3L542.9 93.0L545.3 122.4L546.1 130.8L546.9 137.9L547.9 144.3L549.5 150.9L550.9 155.9L551.9 158.8L552.9 161.1L553.9 162.7L554.5 163.2L554.9 163.4L555.3 163.4L555.7 163.2L556.5 162.4L557.3 161.0L558.3 158.6L559.5 154.8L560.9 149.6L562.3 143.9L562.9 140.6L564.3 130.2L567.3 102.9L571.3 69.9L574.7 39.8L576.3 26.8L577.5 18.5L578.5 12.9L579.5 8.9L580.1 7.3L580.5 6.6L580.9 6.3L581.3 6.3L581.7 6.6L582.1 7.1L582.5 7.8L583.1 9.1L584.1 12.3L585.1 16.2L586.1 20.9L590.7 44.4L593.5 55.8L597.9 75.3L599.1 79.8L600.3 83.4L600.9 84.8L601.5 85.9L602.1 86.6L602.5 86.8L602.9 86.9L603.5 86.7L604.1 86.2L604.7 85.3L605.9 82.9L607.1 79.5L609.1 72.5L613.5 55.3L615.9 47.2L617.1 42.9L621.9 23.5L623.7 16.9L624.9 13.1L626.1 10.0L627.3 7.7L627.9 7.0L628.3 6.6L628.9 6.3L629.3 6.3L629.9 6.5L630.5 7.0L631.1 7.7L631.7 8.6L632.9 10.9L634.3 14.2L637.5 22.2L638.9 26.8L642.7 40.5L643.7 43.6L645.5 48.1L647.3 52.2L648.7 54.8L649.5 55.9L651.1 57.9L652.9 59.8L653.7 60.4L654.3 60.7L654.9 60.8L655.5 60.7L656.1 60.4L656.7 59.9L657.9 58.4L660.1 54.9L660.9 53.4L663.5 47.3L666.9 39.6" stroke="#4DBEEE" stroke-width="2.5" fill="none" stroke-linejoin="round"/>
<text x="95.4" y="36.4" font-size="16.8" font-weight="bold" fill="#000">(a)</text>
<rect x="559.6" y="187.2" width="92.1" height="133.1" fill="#fff" stroke="#262626" stroke-width="2.3"/>
<path d="M561.4 198.9H578.2" stroke="#0072BD" stroke-width="2.5"/>
<text x="578.9" y="201.1" font-size="11.9" textLength="7.0" lengthAdjust="spacingAndGlyphs" fill="#262626">d</text>
<text x="586.9" y="207.1" font-size="9.4" textLength="11.1" lengthAdjust="spacingAndGlyphs" fill="#262626">1d</text>
<text x="600.9" y="201.1" font-size="11.9" textLength="49.7" lengthAdjust="spacingAndGlyphs" fill="#262626">= 0.20 m</text>
<path d="M561.4 220.9H578.2" stroke="#D95319" stroke-width="2.5"/>
<text x="578.9" y="223.1" font-size="11.9" textLength="7.0" lengthAdjust="spacingAndGlyphs" fill="#262626">d</text>
<text x="586.9" y="229.1" font-size="9.4" textLength="11.1" lengthAdjust="spacingAndGlyphs" fill="#262626">1d</text>
<text x="600.9" y="223.1" font-size="11.9" textLength="49.7" lengthAdjust="spacingAndGlyphs" fill="#262626">= 0.22 m</text>
<path d="M561.4 242.9H578.2" stroke="#EDB120" stroke-width="2.5"/>
<text x="578.9" y="245.1" font-size="11.9" textLength="7.0" lengthAdjust="spacingAndGlyphs" fill="#262626">d</text>
<text x="586.9" y="251.1" font-size="9.4" textLength="11.1" lengthAdjust="spacingAndGlyphs" fill="#262626">1d</text>
<text x="600.9" y="245.1" font-size="11.9" textLength="49.7" lengthAdjust="spacingAndGlyphs" fill="#262626">= 0.24 m</text>
<path d="M561.4 264.9H578.2" stroke="#7E2F8E" stroke-width="2.5"/>
<text x="578.9" y="267.1" font-size="11.9" textLength="7.0" lengthAdjust="spacingAndGlyphs" fill="#262626">d</text>
<text x="586.9" y="273.1" font-size="9.4" textLength="11.1" lengthAdjust="spacingAndGlyphs" fill="#262626">1d</text>
<text x="600.9" y="267.1" font-size="11.9" textLength="49.7" lengthAdjust="spacingAndGlyphs" fill="#262626">= 0.26 m</text>
<path d="M561.4 286.9H578.2" stroke="#77AC30" stroke-width="2.5"/>
<text x="578.9" y="289.1" font-size="11.9" textLength="7.0" lengthAdjust="spacingAndGlyphs" fill="#262626">d</text>
<text x="586.9" y="295.1" font-size="9.4" textLength="11.1" lengthAdjust="spacingAndGlyphs" fill="#262626">1d</text>
<text x="600.9" y="289.1" font-size="11.9" textLength="49.7" lengthAdjust="spacingAndGlyphs" fill="#262626">= 0.28 m</text>
<path d="M561.4 308.9H578.2" stroke="#4DBEEE" stroke-width="2.5"/>
<text x="578.9" y="311.1" font-size="11.9" textLength="7.0" lengthAdjust="spacingAndGlyphs" fill="#262626">d</text>
<text x="586.9" y="317.1" font-size="9.4" textLength="11.1" lengthAdjust="spacingAndGlyphs" fill="#262626">1d</text>
<text x="600.9" y="311.1" font-size="11.9" textLength="49.7" lengthAdjust="spacingAndGlyphs" fill="#262626">= 0.30 m</text>
<path d="M42.9 770.5V762.9M42.9 444.4V452.0M105.3 770.5V762.9M105.3 444.4V452.0M167.7 770.5V762.9M167.7 444.4V452.0M230.1 770.5V762.9M230.1 444.4V452.0M292.5 770.5V762.9M292.5 444.4V452.0M354.8 770.5V762.9M354.8 444.4V452.0M417.2 770.5V762.9M417.2 444.4V452.0M479.6 770.5V762.9M479.6 444.4V452.0M542.0 770.5V762.9M542.0 444.4V452.0M604.4 770.5V762.9M604.4 444.4V452.0M666.8 770.5V762.9M666.8 444.4V452.0M42.9 770.5H50.5M666.8 770.5H659.2M42.9 737.9H50.5M666.8 737.9H659.2M42.9 705.3H50.5M666.8 705.3H659.2M42.9 672.7H50.5M666.8 672.7H659.2M42.9 640.1H50.5M666.8 640.1H659.2M42.9 607.5H50.5M666.8 607.5H659.2M42.9 574.8H50.5M666.8 574.8H659.2M42.9 542.2H50.5M666.8 542.2H659.2M42.9 509.6H50.5M666.8 509.6H659.2M42.9 477.0H50.5M666.8 477.0H659.2M42.9 444.4H50.5M666.8 444.4H659.2" stroke="#262626" stroke-width="2.3" fill="none"/>
<rect x="42.9" y="444.4" width="623.9" height="326.1" fill="none" stroke="#262626" stroke-width="2.3"/>
<text x="42.9" y="789.0" font-size="13.7" text-anchor="middle" textLength="23.3" lengthAdjust="spacingAndGlyphs" fill="#262626">740</text>
<text x="105.3" y="789.0" font-size="13.7" text-anchor="middle" textLength="23.3" lengthAdjust="spacingAndGlyphs" fill="#262626">750</text>
<text x="167.7" y="789.0" font-size="13.7" text-anchor="middle" textLength="23.3" lengthAdjust="spacingAndGlyphs" fill="#262626">760</text>
<text x="230.1" y="789.0" font-size="13.7" text-anchor="middle" textLength="23.3" lengthAdjust="spacingAndGlyphs" fill="#262626">770</text>
<text x="292.5" y="789.0" font-size="13.7" text-anchor="middle" textLength="23.3" lengthAdjust="spacingAndGlyphs" fill="#262626">780</text>
<text x="354.8" y="789.0" font-size="13.7" text-anchor="middle" textLength="23.3" lengthAdjust="spacingAndGlyphs" fill="#262626">790</text>
<text x="417.2" y="789.0" font-size="13.7" text-anchor="middle" textLength="23.3" lengthAdjust="spacingAndGlyphs" fill="#262626">800</text>
<text x="479.6" y="789.0" font-size="13.7" text-anchor="middle" textLength="23.3" lengthAdjust="spacingAndGlyphs" fill="#262626">810</text>
<text x="542.0" y="789.0" font-size="13.7" text-anchor="middle" textLength="23.3" lengthAdjust="spacingAndGlyphs" fill="#262626">820</text>
<text x="604.4" y="789.0" font-size="13.7" text-anchor="middle" textLength="23.3" lengthAdjust="spacingAndGlyphs" fill="#262626">830</text>
<text x="666.8" y="789.0" font-size="13.7" text-anchor="middle" textLength="23.3" lengthAdjust="spacingAndGlyphs" fill="#262626">840</text>
<text x="38.4" y="776.3" font-size="13.7" text-anchor="end" textLength="7.8" lengthAdjust="spacingAndGlyphs" fill="#262626">0</text>
<text x="38.4" y="743.7" font-size="13.7" text-anchor="end" textLength="15.5" lengthAdjust="spacingAndGlyphs" fill="#262626">10</text>
<text x="38.4" y="711.1" font-size="13.7" text-anchor="end" textLength="15.5" lengthAdjust="spacingAndGlyphs" fill="#262626">20</text>
<text x="38.4" y="678.5" font-size="13.7" text-anchor="end" textLength="15.5" lengthAdjust="spacingAndGlyphs" fill="#262626">30</text>
<text x="38.4" y="645.9" font-size="13.7" text-anchor="end" textLength="15.5" lengthAdjust="spacingAndGlyphs" fill="#262626">40</text>
<text x="38.4" y="613.2" font-size="13.7" text-anchor="end" textLength="15.5" lengthAdjust="spacingAndGlyphs" fill="#262626">50</text>
<text x="38.4" y="580.6" font-size="13.7" text-anchor="end" textLength="15.5" lengthAdjust="spacingAndGlyphs" fill="#262626">60</text>
<text x="38.4" y="548.0" font-size="13.7" text-anchor="end" textLength="15.5" lengthAdjust="spacingAndGlyphs" fill="#262626">70</text>
<text x="38.4" y="515.4" font-size="13.7" text-anchor="end" textLength="15.5" lengthAdjust="spacingAndGlyphs" fill="#262626">80</text>
<text x="38.4" y="482.8" font-size="13.7" text-anchor="end" textLength="15.5" lengthAdjust="spacingAndGlyphs" fill="#262626">90</text>
<text x="38.4" y="450.2" font-size="13.7" text-anchor="end" textLength="23.3" lengthAdjust="spacingAndGlyphs" fill="#262626">100</text>
<text x="355.3" y="806.0" font-size="13.7" text-anchor="middle" textLength="96.3" lengthAdjust="spacingAndGlyphs" fill="#262626">Frequency (Hz)</text>
<text x="0" y="0" font-size="13.7" text-anchor="middle" textLength="113.6" lengthAdjust="spacingAndGlyphs" fill="#262626" transform="translate(10.9 607.0) rotate(-90)">Transmittance (%)</text>
<path d="M42.9 464.8L45.3 503.7L49.5 581.0L52.1 627.1L52.7 636.1L53.5 645.9L54.5 656.5L55.3 663.8L56.9 675.4L57.9 681.4L59.1 687.9L60.5 694.6L62.1 701.6L64.1 710.0L65.5 715.3L66.5 718.6L67.3 720.9L68.1 722.9L69.3 725.3L70.5 727.4L71.7 729.1L73.3 731.0L74.5 732.2L75.9 733.0L76.9 733.5L77.7 733.7L78.5 733.5L79.5 732.9L81.5 731.0L82.5 730.0L83.5 728.6L84.5 726.9L84.9 725.9L86.5 720.5L88.3 715.7L89.9 711.0L90.9 708.6L91.5 706.4L92.1 700.5L93.3 681.7L97.5 601.1L98.1 587.0L99.3 542.2L99.9 530.3L100.5 521.1L101.3 511.9L101.9 506.9L102.9 500.6L103.3 497.0L105.1 473.9L105.7 467.3L107.1 457.7L107.9 453.5L108.5 451.1L109.1 449.6L110.5 447.1L111.3 446.3L111.7 446.1L112.1 446.1L112.5 447.7L112.9 451.2L113.9 463.7L114.3 470.3L115.1 487.8L115.3 490.0L115.7 492.3L116.1 493.8L116.3 494.0L116.5 493.3L116.7 491.5L117.5 480.2L118.9 448.8L119.3 444.8L119.5 444.7L119.7 445.5L120.1 449.1L120.9 463.0L122.1 492.8L122.5 507.2L123.5 556.6L125.7 692.1L126.1 710.7L126.5 722.2L126.9 729.7L127.5 737.8L128.5 747.6L129.3 753.5L129.9 756.6L131.3 761.1L132.5 763.9L133.1 764.9L133.9 765.9L135.1 767.0L136.3 767.9L137.5 768.6L138.9 769.2L140.1 769.5L142.9 770.0L144.9 770.3L146.7 770.4M396.1 770.4M417.9 770.3M427.1 770.1L430.7 769.8L431.9 769.5L432.9 769.2L433.7 768.8L434.4 768.3L434.9 767.7L435.4 767.0L435.8 766.0L436.2 764.7L436.8 761.4L437.2 756.7L437.5 749.9L437.8 739.9L438.0 726.3L438.3 682.0L438.9 444.4L439.3 639.7L439.6 709.4L439.9 732.3L440.2 747.5L440.6 757.2L440.9 760.6L441.3 763.2L441.6 764.9L442.1 766.2L442.6 767.3L443.2 768.1L443.9 768.7L444.8 769.2L446.1 769.6L447.5 769.8L451.5 770.1M458.3 770.3M494.7 770.4L497.5 770.3L500.5 770.0L502.3 769.7L503.5 769.4L505.3 768.4L507.7 766.7L509.3 765.2L510.7 763.5L511.7 762.0L512.7 760.3L513.3 758.9L514.1 756.4L515.1 752.7L516.7 746.0L517.3 743.1L517.9 739.3L518.9 730.8L520.1 717.1L521.3 700.0L522.5 680.0L523.5 656.9L525.9 587.4L526.3 577.8L527.1 562.8L528.7 536.5L530.5 502.1L531.3 488.7L531.9 481.0L532.7 473.4L533.7 465.1L534.7 458.4L535.3 455.4L535.9 453.3L537.1 450.3L538.3 447.8L539.1 446.5L539.9 445.5L540.7 444.8L541.5 444.6L541.9 444.7L542.5 445.1L544.7 447.4L545.3 447.9L545.7 448.0L546.1 447.9L546.7 447.4L548.5 445.0L548.9 444.7L549.3 444.6L549.7 445.2L550.3 447.6L550.9 451.3L551.7 457.9L554.1 482.1L554.9 489.2L559.7 525.5L561.9 543.5L563.3 557.1L566.7 593.6L568.3 608.5L569.1 614.7L569.9 619.5L571.1 625.0L572.5 630.6L574.3 637.0L576.1 642.3L577.9 646.5L578.9 648.3L579.7 649.6L582.1 652.7L584.3 655.3L586.3 657.4L588.1 659.0L589.9 660.3L591.5 661.2L593.1 661.7L594.7 662.0L595.3 662.0L595.7 661.8L596.3 661.4L596.9 660.7L598.1 658.7L599.3 655.9L600.9 651.5L603.1 644.7L603.9 641.5L604.9 636.5L607.7 619.4L608.9 611.3L613.7 575.0L618.9 538.1L620.3 526.4L622.7 500.3L623.7 491.8L625.1 484.5L626.9 476.4L628.7 469.5L630.3 464.4L631.7 460.7L633.1 457.8L634.3 455.9L635.9 454.0L639.5 450.5L642.7 448.0L644.3 447.0L645.7 446.2L647.3 445.5L648.7 445.0L650.1 444.7L651.3 444.6L657.7 444.6L658.5 444.7L659.5 445.2L660.5 445.8L661.5 446.6L663.1 448.1L663.7 448.8L665.1 451.1L666.8 454.6" stroke="#0072BD" stroke-width="2.5" fill="none" stroke-linejoin="round"/>
<path d="M42.9 619.0L43.9 642.6L44.7 656.3L45.7 669.0L47.1 682.1L48.1 689.9L49.1 696.8L51.1 709.3L52.3 716.0L53.3 720.9L54.1 724.0L54.9 726.3L56.1 729.2L57.7 732.3L59.5 735.2L62.5 739.1L64.9 741.8L65.9 742.7L66.7 743.3L69.3 744.7L70.9 745.3L71.7 745.3L72.5 745.2L73.5 744.9L75.1 744.3L76.7 743.3L78.9 741.2L81.1 738.6L83.1 735.5L85.3 731.4L89.3 721.9L90.1 719.6L90.9 716.3L91.7 711.9L92.5 706.4L93.3 699.9L94.1 692.2L95.1 678.3L96.9 647.4L98.5 614.0L99.5 590.0L101.1 545.2L102.7 505.5L103.5 492.3L104.5 479.1L105.3 470.7L105.9 465.7L107.1 457.9L108.1 452.9L108.9 450.2L109.9 448.1L110.7 446.7L111.3 445.8L111.9 445.1L112.5 444.7L112.9 444.6L113.1 444.7L113.3 445.1L113.5 446.1L114.1 451.3L115.1 465.6L116.7 493.6L118.7 537.1L119.1 551.9L119.9 595.1L121.3 659.2L122.3 701.0L123.3 738.1L123.5 741.4L124.1 748.2L124.7 753.0L125.3 756.4L126.1 759.3L127.3 762.4L128.5 764.7L129.7 766.3L130.9 767.4L132.5 768.5L133.9 769.3L135.9 770.1L136.9 770.3L137.9 770.4M376.9 770.4M387.5 770.2L389.6 770.0L390.9 769.7L391.7 769.1L392.2 768.2L392.6 766.9L392.9 764.8L393.1 761.8L393.3 757.4L393.5 743.7L393.8 677.3L394.0 458.4L394.2 658.1L394.4 730.2L394.5 748.1L394.8 758.7L395.1 764.8L395.4 766.7L395.7 767.9L396.0 768.6L396.4 769.2L396.9 769.6L397.6 769.8L399.5 770.2M403.3 770.3M492.3 770.4M496.5 770.2L500.7 769.7L501.9 769.4L503.3 768.7L505.7 767.1L507.1 765.9L508.3 764.8L509.5 763.3L510.5 761.9L511.5 760.1L512.3 758.1L513.1 755.6L515.3 747.0L516.3 742.0L516.9 737.5L517.7 728.4L518.5 716.3L520.9 672.3L522.7 632.1L524.3 589.5L524.9 576.0L525.7 562.4L527.3 538.4L529.3 503.3L530.3 487.9L530.9 480.9L531.7 474.0L532.7 466.6L533.7 460.6L534.7 456.1L535.9 452.0L537.3 447.9L538.3 445.7L538.7 445.2L539.1 444.8L539.5 444.6L539.9 444.7L540.5 445.6L541.3 447.8L542.5 452.7L544.3 461.5L545.1 466.5L545.9 472.4L547.7 488.0L550.3 512.9L553.5 547.6L556.7 586.0L558.1 601.5L559.3 612.5L559.9 617.0L560.5 620.5L562.5 629.5L564.5 637.0L566.5 643.1L567.5 645.5L568.5 647.6L569.7 649.6L571.3 651.7L573.5 654.4L575.7 656.8L577.5 658.5L579.1 659.8L580.7 660.8L582.3 661.5L583.9 661.9L585.3 662.0L586.3 661.8L587.5 661.1L588.7 660.1L590.1 658.6L591.5 656.7L592.9 654.5L594.7 651.4L596.9 647.2L598.5 644.0L599.5 641.6L600.7 638.2L601.9 634.2L603.1 629.6L604.1 625.3L605.7 617.2L607.1 606.6L610.1 578.5L615.7 529.1L618.3 503.6L619.5 493.4L621.7 479.9L623.9 468.2L624.9 463.7L625.7 460.6L626.5 458.1L627.3 456.2L627.9 455.1L629.7 452.9L631.5 450.9L633.1 449.3L634.7 448.0L636.1 447.0L637.7 446.0L639.1 445.4L640.5 444.9L641.7 444.7L643.1 444.6L644.1 444.7L645.3 445.1L646.5 445.7L647.7 446.6L648.9 447.6L650.3 449.0L651.7 450.7L654.9 454.9L655.9 456.5L656.9 458.8L658.9 464.6L662.7 477.4L664.7 484.8L666.8 493.3" stroke="#D95319" stroke-width="2.5" fill="none" stroke-linejoin="round"/>
<path d="M389.8 770.0L391.0 769.6L391.4 769.4L391.8 769.0L392.3 768.0L392.7 766.5L393.0 764.0L393.2 760.5L393.4 748.8L393.6 724.2L393.8 682.8L394.0 458.4L394.2 682.8L394.4 724.2L394.6 748.8L394.8 760.5L395.0 764.0L395.3 766.5L395.7 768.0L396.2 769.0L396.6 769.4L397.0 769.6L398.2 770.0L398.2 771.5L389.8 771.5Z" fill="#D95319"/>
<path d="M42.9 692.6L47.7 721.5L48.5 725.2L49.5 728.5L50.5 731.3L51.7 734.2L52.9 736.6L54.1 738.7L55.5 740.7L57.1 742.7L58.9 744.6L60.7 746.2L65.3 749.7L66.5 750.4L67.5 750.7L68.5 750.7L69.7 750.6L73.1 749.8L74.9 749.1L76.7 748.2L78.7 746.8L80.3 745.4L81.5 744.0L82.7 742.2L84.3 739.3L85.9 735.9L86.9 733.2L87.9 729.9L88.9 725.7L89.5 722.6L90.7 713.6L91.5 706.1L92.1 699.3L93.3 681.9L97.9 592.5L98.3 580.9L99.3 543.3L100.5 505.8L101.1 491.7L102.1 476.6L103.3 462.9L103.9 458.1L104.3 455.9L105.5 451.4L106.7 447.9L107.3 446.6L107.9 445.6L108.5 444.9L108.9 444.7L109.3 444.6L109.5 445.0L109.9 446.7L110.5 450.9L111.3 457.9L112.3 472.2L113.3 492.4L114.1 517.4L115.3 542.9L115.7 558.3L116.7 607.5L117.3 630.7L118.3 662.8L120.7 733.1L121.1 741.2L121.9 749.3L122.3 752.3L122.9 755.9L123.3 757.7L123.9 759.7L125.3 763.1L126.1 764.7L126.9 765.9L127.7 766.9L128.5 767.7L130.1 768.6L131.9 769.5L133.5 770.0L134.9 770.3L136.1 770.4M329.7 770.4M334.9 770.3L337.6 770.1L338.4 769.9L339.1 769.6L339.6 769.3L340.0 768.8L340.5 767.8L340.8 766.4L341.0 764.3L341.2 761.4L341.5 752.1L341.7 735.2L341.9 665.3L342.1 459.4L342.3 683.0L342.5 724.4L342.6 748.1L342.9 760.3L343.1 763.9L343.4 766.4L343.8 767.9L344.3 769.0L345.1 769.6L346.2 770.0L347.8 770.2L350.1 770.3M359.9 770.4M491.7 770.3L494.7 770.0L498.3 769.4L499.5 769.0L500.7 768.3L502.9 766.8L505.3 764.7L507.1 762.6L508.7 760.1L509.9 757.7L511.1 754.2L513.1 747.1L514.1 742.8L514.7 739.3L515.3 734.5L515.9 728.4L516.7 718.3L518.1 696.3L519.3 673.8L520.1 652.8L522.5 580.0L524.5 535.4L525.9 500.5L526.5 487.7L526.9 481.3L527.7 471.8L529.3 455.4L529.9 450.8L530.5 447.3L531.1 445.2L531.5 444.6L532.1 444.6L532.9 444.8L533.7 445.2L534.5 445.7L536.1 447.1L536.9 448.4L537.7 450.5L538.7 454.1L539.9 459.5L540.5 463.1L541.5 472.2L543.9 499.0L547.1 527.2L548.5 541.1L549.7 555.4L552.7 595.3L553.9 609.1L555.1 619.7L557.1 631.7L558.3 637.8L559.5 643.0L560.5 646.5L561.5 649.1L562.1 650.2L563.9 653.0L566.5 656.5L568.9 659.0L570.1 660.1L571.3 660.9L573.1 661.7L574.7 662.0L576.5 661.8L578.3 661.3L580.3 660.2L582.3 658.7L584.5 656.7L586.7 654.2L590.3 649.6L591.1 648.2L592.1 646.1L593.1 643.5L594.3 639.8L595.5 635.5L596.7 630.7L599.1 619.5L600.1 613.0L601.3 602.7L604.1 575.9L608.1 543.3L609.1 533.3L609.7 526.1L611.7 493.2L612.5 485.6L613.7 476.1L614.7 469.3L615.5 464.7L616.3 460.7L617.1 457.6L617.9 455.2L619.3 452.1L620.7 449.4L621.9 447.4L622.9 446.1L623.7 445.4L624.7 444.8L625.5 444.6L640.3 444.6L640.9 444.9L641.5 445.3L642.1 446.0L642.9 447.2L644.3 450.0L645.9 453.8L650.7 466.9L652.1 471.1L654.3 478.8L659.5 498.2L666.8 523.9" stroke="#EDB120" stroke-width="2.5" fill="none" stroke-linejoin="round"/>
<path d="M337.9 770.0L339.1 769.6L339.5 769.4L339.9 769.0L340.4 768.0L340.8 766.5L341.1 764.1L341.3 760.6L341.6 748.9L341.7 724.4L341.9 683.0L342.1 459.4L342.3 683.0L342.5 724.4L342.7 748.9L342.9 760.6L343.1 764.1L343.4 766.5L343.8 768.0L344.3 769.0L344.7 769.4L345.1 769.6L346.3 770.0L346.3 771.5L337.9 771.5Z" fill="#EDB120"/>
<path d="M140.1 770.4M277.7 770.3M281.7 770.2L283.8 770.0L284.5 769.7L285.1 769.4L285.5 769.0L285.8 768.5L286.2 767.4L286.5 765.8L286.9 760.4L287.1 750.2L287.3 733.3L287.5 668.6L287.7 469.2L287.9 668.6L288.1 736.3L288.3 752.1L288.6 761.5L288.8 764.4L289.0 766.4L289.3 767.8L289.8 768.8L290.1 769.3L290.6 769.6L291.3 769.9L292.1 770.0L294.7 770.3M299.5 770.4M479.9 770.4" stroke="#7E2F8E" stroke-width="2.5" fill="none" stroke-linejoin="round"/>
<path d="M283.6 770.0L284.7 769.6L285.1 769.4L285.5 769.0L286.0 768.0L286.4 766.5L286.7 764.1L286.9 760.6L287.2 748.8L287.3 725.8L287.5 685.8L287.7 469.2L287.9 685.8L288.1 725.8L288.2 748.8L288.5 760.6L288.7 764.1L289.0 766.5L289.4 768.0L289.9 769.0L290.2 769.4L290.7 769.6L291.8 770.0L291.8 771.5L283.6 771.5Z" fill="#7E2F8E"/>
<path d="M42.9 723.6L45.5 729.2L47.9 733.7L49.3 736.0L51.3 738.9L52.5 740.6L53.5 741.8L54.3 742.5L54.9 742.9L57.1 744.1L58.7 744.7L59.9 745.0L61.1 745.1L61.9 745.0L62.9 744.7L64.5 743.8L67.1 741.9L68.1 741.1L69.3 739.8L70.7 738.1L72.1 736.0L73.5 733.6L74.9 730.9L75.5 729.6L76.3 727.4L77.9 722.2L80.1 714.0L81.7 706.8L83.1 698.7L84.3 689.3L85.3 678.9L86.3 665.4L87.5 639.0L91.7 528.6L92.5 512.6L93.9 490.0L95.5 460.5L95.9 455.8L96.9 449.4L97.7 445.9L98.1 444.9L98.3 444.7L98.5 444.6L99.1 444.7L99.7 445.1L100.5 445.9L101.5 447.0L101.9 447.7L102.9 450.3L103.3 450.9L103.5 451.0L103.7 450.9L104.1 450.0L105.1 446.2L105.5 445.1L105.7 444.8L105.9 444.8L106.1 445.1L106.5 446.3L107.1 449.7L107.9 456.2L108.5 462.4L109.1 474.3L110.7 517.8L111.7 537.7L112.3 552.9L115.3 650.6L116.3 690.0L116.9 720.0L117.5 730.3L118.1 736.6L119.5 748.1L120.5 754.6L120.9 756.5L121.5 758.6L122.3 760.8L123.3 763.1L124.1 764.5L125.1 765.8L126.3 766.9L127.7 767.8L128.9 768.5L130.1 768.9L132.9 769.8L135.1 770.2L137.3 770.4L179.8 770.4L197.8 770.4L209.9 770.4M225.7 770.3M229.2 770.1L230.4 769.9L231.2 769.6L231.9 769.3L232.4 768.8L232.9 768.2L233.2 767.4L233.6 765.9L233.9 763.8L234.3 757.3L234.5 745.6L234.7 727.1L234.9 657.8L235.2 467.4L235.5 685.3L235.7 725.6L235.9 748.7L236.3 760.5L236.6 764.1L236.9 766.4L237.4 768.0L238.1 769.0L239.2 769.6L240.7 770.0L242.7 770.2M245.9 770.3M259.9 770.4M484.5 770.4L486.5 770.2L488.7 769.9L491.3 769.3L492.9 768.8L494.7 767.9L496.9 766.4L498.3 765.3L499.7 763.9L501.3 761.7L502.5 759.4L503.7 755.8L504.9 751.0L505.9 746.1L506.5 741.8L506.9 737.8L507.5 728.5L508.3 711.2L509.7 674.6L510.9 636.3L511.5 610.1L512.5 545.3L513.1 519.2L513.7 499.4L514.3 484.2L515.7 456.9L516.3 448.6L516.7 445.4L516.9 444.7L517.1 444.6L517.5 445.6L518.1 449.1L523.3 492.6L524.1 497.1L524.5 498.5L524.9 499.1L525.1 499.1L525.5 498.2L526.1 495.0L526.7 490.3L528.7 472.0L530.7 459.9L531.9 453.8L532.9 450.3L534.1 447.4L535.1 445.6L535.7 445.0L536.1 444.8L536.3 444.8L536.5 445.1L536.9 446.4L537.5 450.1L538.3 457.3L540.7 484.8L541.5 496.4L543.5 529.1L544.7 544.6L545.7 555.0L548.3 579.0L550.9 605.4L552.1 616.4L554.3 632.0L555.1 636.5L555.7 639.1L557.1 642.9L558.7 646.5L559.5 647.9L560.1 648.7L560.7 649.4L561.3 649.8L562.1 650.0L563.1 649.7L564.1 649.0L565.1 647.9L567.1 645.0L571.1 638.0L573.1 633.9L574.7 629.7L576.3 624.5L577.5 619.6L578.3 614.7L579.3 606.5L582.7 572.7L586.1 543.4L587.5 530.5L588.5 519.8L590.7 491.7L591.7 482.0L592.7 476.0L594.3 467.4L595.5 461.6L596.7 456.4L597.9 452.0L598.9 449.0L599.9 446.7L600.9 445.3L601.7 444.7L602.3 444.6L602.9 444.9L603.7 445.9L604.3 446.9L605.1 448.5L608.3 456.6L609.1 458.4L609.9 459.8L614.1 466.5L615.9 468.9L616.9 470.0L617.7 470.7L618.7 471.2L619.5 471.4L620.1 471.3L620.9 470.8L621.7 469.9L622.5 468.7L623.7 466.5L627.1 459.5L629.3 455.8L632.7 449.3L634.3 446.8L635.5 445.5L636.1 445.0L636.7 444.8L637.1 444.8L637.5 444.9L637.9 445.2L638.5 445.8L639.9 448.0L641.3 450.5L642.1 452.3L643.7 456.5L645.9 463.3L647.7 469.6L650.9 482.1L655.9 502.5L658.5 511.5L660.3 517.3L661.7 521.2L663.1 524.3L665.1 527.8L665.9 529.0L666.8 530.0" stroke="#77AC30" stroke-width="2.5" fill="none" stroke-linejoin="round"/>
<path d="M229.7 770.0L231.2 769.6L231.8 769.4L232.3 769.0L232.6 768.6L233.0 768.0L233.5 766.4L233.8 764.1L234.1 760.5L234.3 755.5L234.5 748.7L234.7 725.6L234.9 685.3L235.2 467.4L235.5 685.3L235.7 725.6L235.9 748.7L236.1 755.5L236.3 760.5L236.6 764.1L236.9 766.4L237.4 768.0L237.8 768.6L238.1 769.0L238.6 769.4L239.2 769.6L240.7 770.0L240.7 771.5L229.7 771.5Z" fill="#77AC30"/>
<path d="M42.9 718.4L45.1 722.6L47.1 725.8L48.5 727.5L51.1 729.9L53.3 731.6L54.3 732.1L55.1 732.4L55.9 732.5L56.5 732.4L57.3 732.1L58.1 731.6L61.5 728.5L63.5 726.3L64.7 724.6L65.7 723.0L67.5 719.5L69.3 714.9L71.1 709.0L72.9 701.8L74.1 695.8L75.3 687.7L76.3 679.2L77.3 668.9L77.9 660.4L80.5 610.0L84.3 527.4L87.9 467.6L88.5 460.0L89.5 451.3L90.3 446.3L90.7 444.9L90.9 444.6L91.1 444.6L91.3 444.7L91.7 445.3L92.1 446.2L92.7 448.2L95.1 457.3L97.7 469.7L98.5 472.2L98.9 472.9L99.1 473.1L99.3 473.2L99.5 473.1L99.9 472.4L100.7 469.4L102.9 457.9L104.5 447.6L105.1 445.1L105.3 444.7L105.5 444.6L105.7 444.7L105.9 445.1L106.3 446.6L106.9 450.3L108.1 461.1L108.5 467.6L110.3 515.4L111.3 535.6L111.9 550.2L112.9 580.4L115.1 654.2L115.9 685.7L116.5 716.8L116.9 725.8L117.3 731.5L118.7 744.2L119.5 750.3L120.1 754.0L120.9 757.7L121.7 760.0L122.7 762.5L123.5 764.0L124.5 765.5L125.7 766.6L127.3 767.8L128.9 768.6L130.5 769.1L133.5 770.0L135.7 770.3L137.1 770.4L170.3 770.3L177.3 770.2L181.1 769.9L182.5 769.7L183.5 769.4L184.4 768.9L185.0 768.3L185.6 767.6L186.0 766.6L186.4 765.4L186.7 763.8L187.0 761.3L187.3 758.0L187.7 748.6L188.0 733.5L188.2 711.7L188.4 641.1L188.8 444.4L189.3 676.0L189.5 721.0L189.9 746.6L190.1 754.2L190.4 759.6L190.8 763.4L191.4 766.0L191.7 766.9L192.1 767.7L192.5 768.3L193.1 768.8L193.7 769.2L194.5 769.5L196.7 769.9L199.5 770.1L203.7 770.3L221.5 770.4L476.3 770.4L480.1 770.2L484.7 769.6L487.3 768.9L489.9 767.8L490.9 767.1L491.7 766.3L493.3 764.3L494.7 761.9L495.7 759.3L497.1 753.8L498.3 747.6L499.1 741.1L499.5 735.7L500.1 722.1L500.7 703.7L501.9 662.3L502.5 636.4L502.9 613.3L504.1 512.0L504.5 490.0L505.1 471.4L505.7 456.7L506.3 447.3L506.5 445.6L506.7 444.7L506.9 444.7L507.1 445.5L507.7 452.3L508.3 463.6L508.9 477.6L509.3 490.3L510.3 537.1L511.3 560.9L512.3 579.2L513.5 595.1L515.3 611.0L515.9 615.4L516.5 618.9L517.1 621.2L517.5 621.9L517.7 622.0L517.9 621.9L518.3 621.5L518.7 620.6L519.1 619.4L519.9 616.2L520.9 611.1L522.1 604.4L522.7 600.5L523.5 594.2L524.5 584.9L527.3 556.8L528.7 540.0L529.5 526.6L531.5 487.2L532.9 468.9L533.7 459.5L534.5 451.6L535.3 446.3L535.7 444.9L535.9 444.6L536.1 444.6L536.3 444.9L536.9 447.4L537.5 451.9L538.1 457.8L540.5 486.3L542.9 525.4L543.7 536.6L545.7 556.6L547.5 571.5L548.5 578.1L549.3 582.3L549.9 584.7L551.5 589.7L553.1 594.1L554.7 597.7L555.5 599.0L556.1 599.8L556.7 600.4L557.3 600.8L557.9 601.0L558.3 601.0L558.9 600.7L559.5 600.3L560.5 599.0L561.7 596.9L563.3 593.1L564.9 588.5L566.1 584.7L566.9 581.0L567.5 577.2L568.3 571.2L571.1 546.9L573.7 527.1L578.7 484.3L580.9 467.3L582.3 458.3L583.7 451.1L584.3 448.8L584.9 446.9L585.5 445.6L586.1 444.8L586.5 444.6L586.9 444.7L587.3 445.0L587.9 445.8L588.7 447.7L589.7 450.9L591.5 458.7L595.1 477.6L596.7 485.1L597.7 489.0L603.7 509.7L605.5 515.2L607.1 519.3L608.5 522.0L609.3 523.0L609.9 523.5L610.7 523.9L611.5 523.8L612.3 523.3L613.1 522.5L613.9 521.3L614.9 519.5L615.9 517.2L616.9 514.7L618.7 509.4L622.9 496.1L625.7 488.0L626.7 484.8L628.5 478.1L632.9 460.4L635.1 452.7L636.3 449.3L637.3 447.1L638.3 445.5L638.9 444.9L639.3 444.7L639.9 444.6L640.3 444.9L640.7 445.4L641.3 446.7L644.3 456.0L650.7 471.3L654.7 482.3L656.5 486.6L659.1 491.4L660.5 493.6L661.7 495.3L662.9 496.8L664.3 498.3L665.5 499.4L666.8 500.3" stroke="#4DBEEE" stroke-width="2.5" fill="none" stroke-linejoin="round"/>
<text x="56.9" y="475.4" font-size="16.8" font-weight="bold" fill="#000">(b)</text>
<rect x="551.6" y="622.0" width="92.3" height="133.7" fill="#fff" stroke="#262626" stroke-width="2.3"/>
<path d="M553.4 633.7H570.2" stroke="#0072BD" stroke-width="2.5"/>
<text x="570.9" y="635.9" font-size="11.9" textLength="7.0" lengthAdjust="spacingAndGlyphs" fill="#262626">d</text>
<text x="578.9" y="641.9" font-size="9.4" textLength="11.1" lengthAdjust="spacingAndGlyphs" fill="#262626">1d</text>
<text x="592.9" y="635.9" font-size="11.9" textLength="49.7" lengthAdjust="spacingAndGlyphs" fill="#262626">= 0.20 m</text>
<path d="M553.4 655.7H570.2" stroke="#D95319" stroke-width="2.5"/>
<text x="570.9" y="657.9" font-size="11.9" textLength="7.0" lengthAdjust="spacingAndGlyphs" fill="#262626">d</text>
<text x="578.9" y="663.9" font-size="9.4" textLength="11.1" lengthAdjust="spacingAndGlyphs" fill="#262626">1d</text>
<text x="592.9" y="657.9" font-size="11.9" textLength="49.7" lengthAdjust="spacingAndGlyphs" fill="#262626">= 0.22 m</text>
<path d="M553.4 677.7H570.2" stroke="#EDB120" stroke-width="2.5"/>
<text x="570.9" y="679.9" font-size="11.9" textLength="7.0" lengthAdjust="spacingAndGlyphs" fill="#262626">d</text>
<text x="578.9" y="685.9" font-size="9.4" textLength="11.1" lengthAdjust="spacingAndGlyphs" fill="#262626">1d</text>
<text x="592.9" y="679.9" font-size="11.9" textLength="49.7" lengthAdjust="spacingAndGlyphs" fill="#262626">= 0.24 m</text>
<path d="M553.4 699.7H570.2" stroke="#7E2F8E" stroke-width="2.5"/>
<text x="570.9" y="701.9" font-size="11.9" textLength="7.0" lengthAdjust="spacingAndGlyphs" fill="#262626">d</text>
<text x="578.9" y="707.9" font-size="9.4" textLength="11.1" lengthAdjust="spacingAndGlyphs" fill="#262626">1d</text>
<text x="592.9" y="701.9" font-size="11.9" textLength="49.7" lengthAdjust="spacingAndGlyphs" fill="#262626">= 0.26 m</text>
<path d="M553.4 721.7H570.2" stroke="#77AC30" stroke-width="2.5"/>
<text x="570.9" y="723.9" font-size="11.9" textLength="7.0" lengthAdjust="spacingAndGlyphs" fill="#262626">d</text>
<text x="578.9" y="729.9" font-size="9.4" textLength="11.1" lengthAdjust="spacingAndGlyphs" fill="#262626">1d</text>
<text x="592.9" y="723.9" font-size="11.9" textLength="49.7" lengthAdjust="spacingAndGlyphs" fill="#262626">= 0.28 m</text>
<path d="M553.4 743.7H570.2" stroke="#4DBEEE" stroke-width="2.5"/>
<text x="570.9" y="745.9" font-size="11.9" textLength="7.0" lengthAdjust="spacingAndGlyphs" fill="#262626">d</text>
<text x="578.9" y="751.9" font-size="9.4" textLength="11.1" lengthAdjust="spacingAndGlyphs" fill="#262626">1d</text>
<text x="592.9" y="745.9" font-size="11.9" textLength="49.7" lengthAdjust="spacingAndGlyphs" fill="#262626">= 0.30 m</text>
</svg>
</body></html>
